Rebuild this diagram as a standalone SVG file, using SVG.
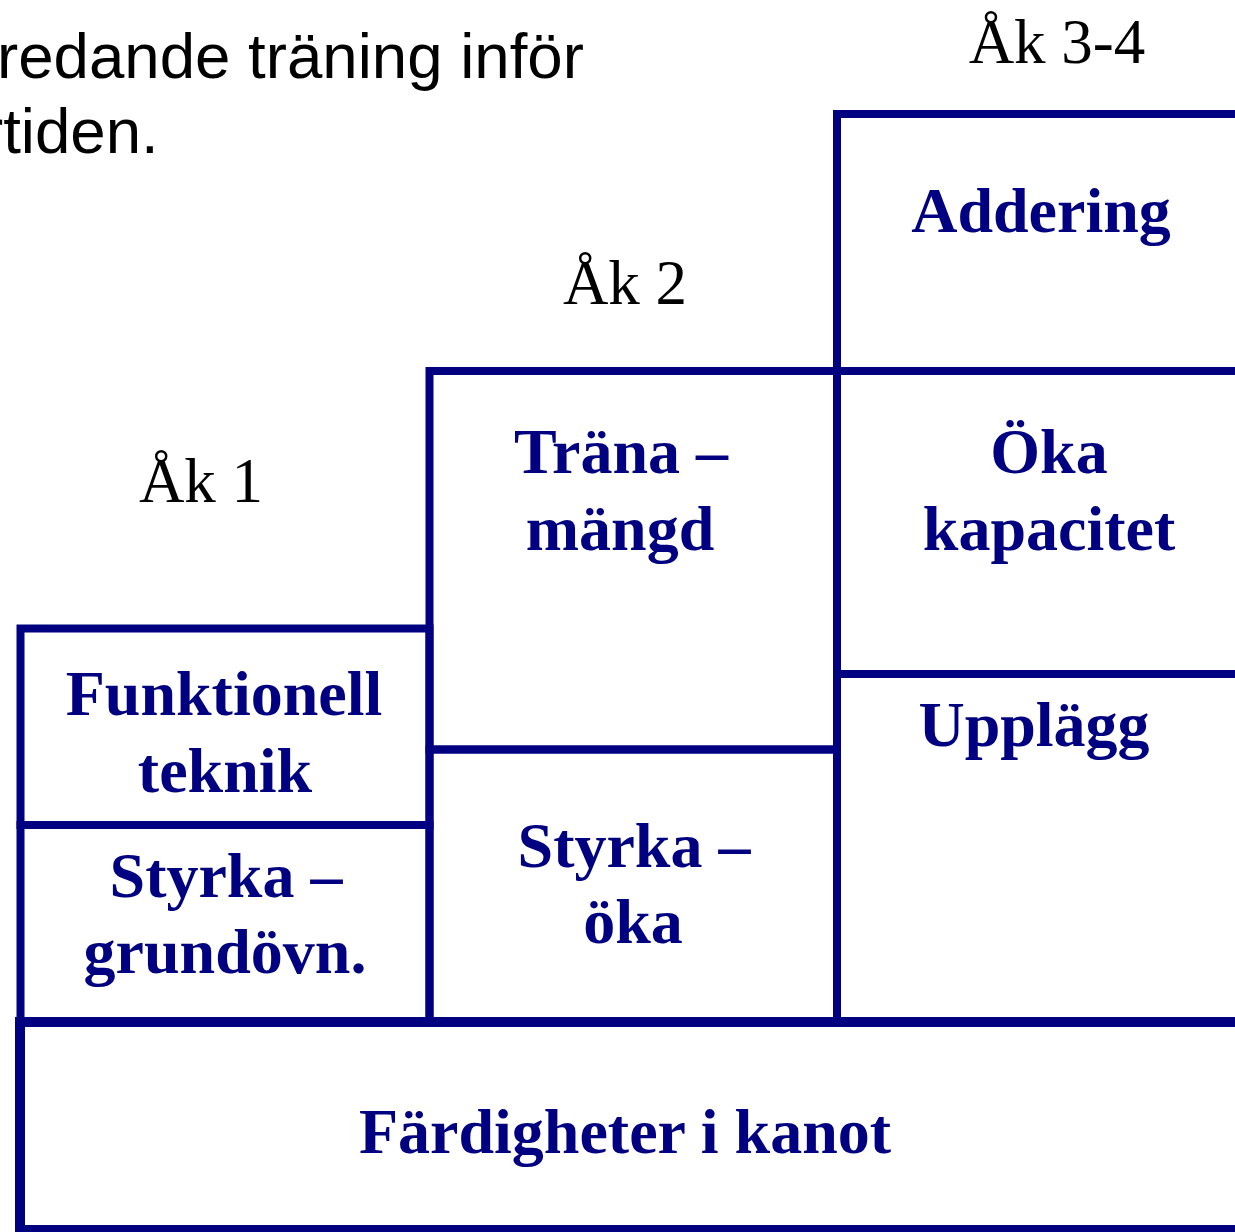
<svg xmlns="http://www.w3.org/2000/svg" width="1235" height="1232" viewBox="0 0 1235 1232">
<style>
.box{fill:none;stroke:#000080;stroke-width:8}
.base{fill:none;stroke:#000080;stroke-width:10}
.lbl{font-family:"Liberation Serif","Times New Roman",serif;font-weight:bold;font-size:64px;fill:#000080;text-anchor:middle}
.ak{font-family:"Liberation Serif","Times New Roman",serif;font-size:63px;fill:#000000;text-anchor:middle}
.intro{font-family:"Liberation Sans",Arial,sans-serif;font-size:63.6px;fill:#000000}
</style>
<rect width="1235" height="1232" fill="#ffffff"/>
<g id="intro">
<text class="intro" x="-3" y="78">redande träning inför</text>
<text class="intro" x="-18" y="153">rtiden.</text>
</g>
<g id="headers">
<text class="ak" x="201" y="502">Åk 1</text>
<text class="ak" x="625" y="304">Åk 2</text>
<text class="ak" x="1057" y="63">Åk 3-4</text>
</g>
<g id="connectors"></g>
<g id="funktionell">
<rect class="box" x="20.5" y="628.5" width="409" height="196.5"/>
<text class="lbl" x="224" y="715">Funktionell</text>
<text class="lbl" x="225" y="792">teknik</text>
</g>
<g id="styrka-grund">
<rect class="box" x="20.5" y="825" width="409" height="197"/>
<text class="lbl" x="226" y="897">Styrka –</text>
<text class="lbl" x="225" y="973">grundövn.</text>
</g>
<g id="trana">
<rect class="box" x="429.5" y="371" width="407.5" height="378.5"/>
<text class="lbl" x="621" y="473">Träna –</text>
<text class="lbl" x="620" y="550">mängd</text>
</g>
<g id="styrka-oka">
<rect class="box" x="429.5" y="749.5" width="407.5" height="272.5"/>
<text class="lbl" x="634" y="867">Styrka –</text>
<text class="lbl" x="633" y="943">öka</text>
</g>
<g id="addering">
<rect class="box" x="837" y="114" width="420" height="257"/>
<text class="lbl" x="1041" y="232">Addering</text>
</g>
<g id="oka-kapacitet">
<rect class="box" x="837" y="371" width="420" height="303"/>
<text class="lbl" x="1049" y="473">Öka</text>
<text class="lbl" x="1049" y="550">kapacitet</text>
</g>
<g id="upplagg">
<rect class="box" x="837" y="674" width="420" height="348"/>
<text class="lbl" x="1034" y="746">Upplägg</text>
</g>
<g id="fardigheter">
<rect class="base" x="20" y="1022" width="1240" height="208"/>
<text class="lbl" x="625" y="1153">Färdigheter i kanot</text>
</g>
</svg>
